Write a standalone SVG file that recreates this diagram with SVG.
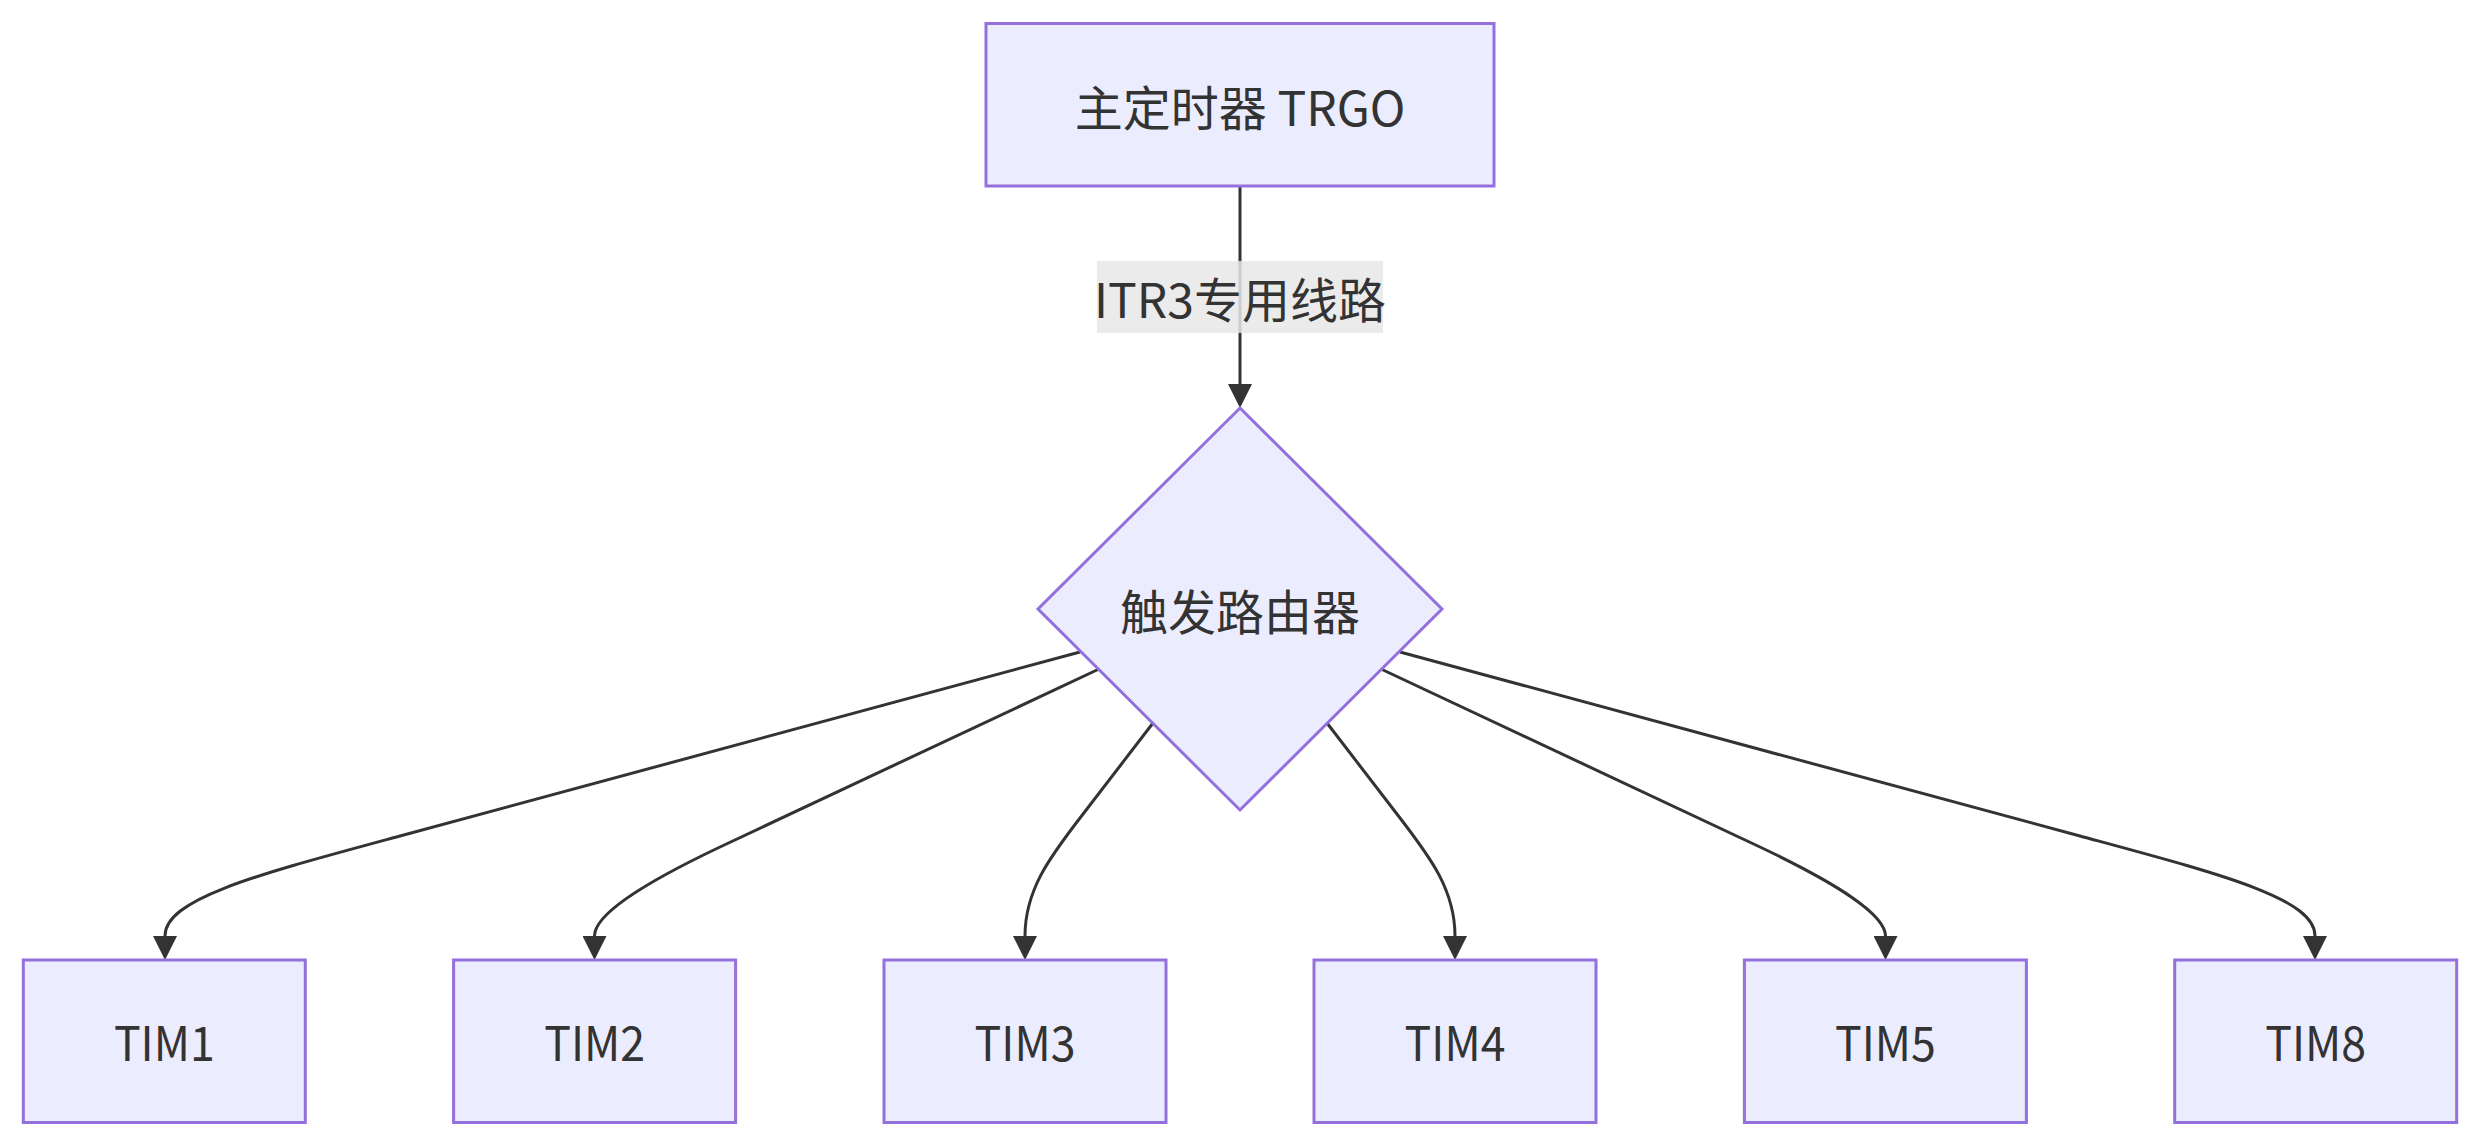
<svg xmlns="http://www.w3.org/2000/svg" width="2480" height="1146" viewBox="0 0 2480 1146">
<style>
.node rect, .node polygon { fill: #ECECFF; stroke: #9370DB; stroke-width: 3; }
.lbl { font-family: "Noto Sans CJK SC", "Noto Sans", sans-serif; font-size: 48px; fill: #333333; text-anchor: middle; dominant-baseline: central; }
.edge { fill: none; stroke: #333333; stroke-width: 3; marker-end: url(#arrow); }
.elbg { fill: #e8e8e8; opacity: 0.85; }
</style>
<defs>
<marker id="arrow" viewBox="0 0 24 24" markerWidth="24" markerHeight="24" markerUnits="userSpaceOnUse" refX="0" refY="12" orient="auto">
<path d="M0,0 L24,12 L0,24 z" fill="#333333"/>
</marker>
</defs>
<rect width="2480" height="1146" fill="#ffffff"/>
<g id="connectors">
<path class="edge" d="M1240,186 L1240,384"/>
<path class="edge" d="M1080,652 L400,836 C260,874 165,898 165,936"/>
<path class="edge" d="M1099,669 L720,847 C640,885 594.5,915 594.5,936"/>
<path class="edge" d="M1153,723 L1080,818 C1050,857 1025,890 1025,936"/>
<path class="edge" d="M1327,723 L1400,818 C1430,857 1455,890 1455,936"/>
<path class="edge" d="M1381,669 L1760,847 C1840,885 1885.5,915 1885.5,936"/>
<path class="edge" d="M1400,652 L2080,836 C2220,874 2315,898 2315,936"/>
</g>
<g id="edge-label">
<rect class="elbg" x="1097" y="261" width="286" height="72"/>
<text class="lbl" x="1240" y="297">ITR3专用线路</text>
</g>
<g id="master" class="node">
<rect x="986" y="23.5" width="508" height="162.5"/>
<text class="lbl" x="1240" y="105">主定时器 TRGO</text>
</g>
<g id="router" class="node">
<polygon points="1240,408 1442,609 1240,810 1038,609"/>
<text class="lbl" x="1240" y="609">触发路由器</text>
</g>
<g id="tim1" class="node">
<rect x="23.3" y="960" width="282" height="162.5"/>
<text class="lbl" transform="translate(164.3,1040) scale(0.93,1)">TIM1</text>
</g>
<g id="tim2" class="node">
<rect x="453.6" y="960" width="282" height="162.5"/>
<text class="lbl" transform="translate(594.6,1040) scale(0.93,1)">TIM2</text>
</g>
<g id="tim3" class="node">
<rect x="884" y="960" width="282" height="162.5"/>
<text class="lbl" transform="translate(1025,1040) scale(0.93,1)">TIM3</text>
</g>
<g id="tim4" class="node">
<rect x="1314" y="960" width="282" height="162.5"/>
<text class="lbl" transform="translate(1455,1040) scale(0.93,1)">TIM4</text>
</g>
<g id="tim5" class="node">
<rect x="1744.4" y="960" width="282" height="162.5"/>
<text class="lbl" transform="translate(1885.4,1040) scale(0.93,1)">TIM5</text>
</g>
<g id="tim8" class="node">
<rect x="2174.7" y="960" width="282" height="162.5"/>
<text class="lbl" transform="translate(2315.7,1040) scale(0.93,1)">TIM8</text>
</g>
</svg>
